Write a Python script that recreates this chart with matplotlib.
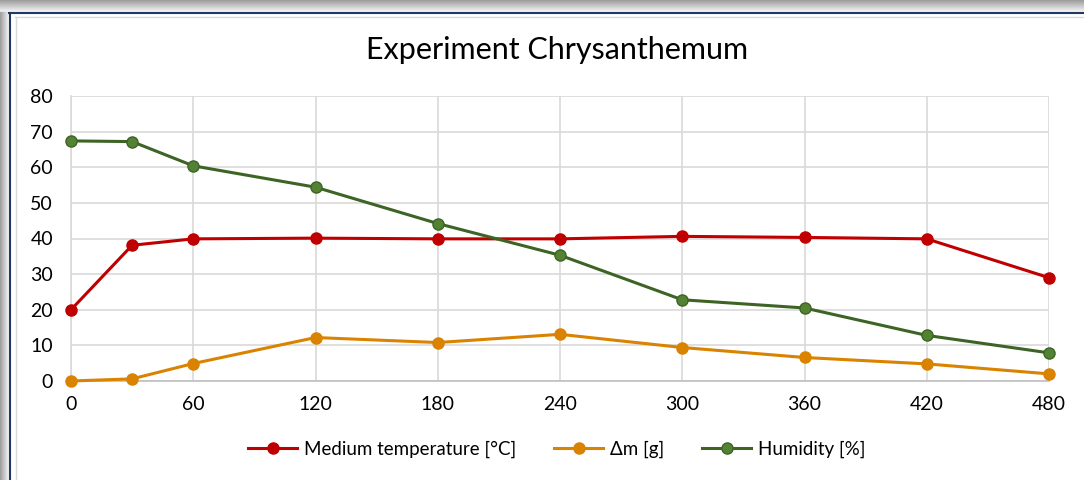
import matplotlib.pyplot as plt
import matplotlib.patches as mpatches
import numpy as np

# data
minutes = [0, 30, 60, 120, 180, 240, 300, 360, 420, 480]
temperature = [20, 38.1, 39.9, 40.1, 39.9, 39.9, 40.6, 40.3, 39.9, 29]
delta_m = [0, 0.6, 4.9, 12.2, 10.8, 13.1, 9.4, 6.6, 4.8, 2.0]
humidity = [67.4, 67.2, 60.4, 54.4, 44.2, 35.3, 22.8, 20.5, 12.8, 7.9]

x_ticks = [0, 60, 120, 180, 240, 300, 360, 420, 480]
y_ticks = [0, 10, 20, 30, 40, 50, 60, 70, 80]

plt.rcParams['font.family'] = ['Lato', 'DejaVu Sans']

fig = plt.figure(figsize=(10.84, 4.80), dpi=100)
W, H = 1084, 480

# window frame: grey shadow, navy border, thin inner line
for i in range(12):
    g = 0.62 + 0.03 * i
    fig.patches.append(mpatches.Rectangle((0, 1 - (i + 1) / H), 1, 1 / H,
                       transform=fig.transFigure, color=(g, g, g), zorder=0))
for i in range(9):
    g = 0.62 + 0.04 * i
    fig.patches.append(mpatches.Rectangle((i / W, 0), 1 / W, 1 - 12 / H,
                       transform=fig.transFigure, color=(g, g, g), zorder=0))
fig.add_artist(plt.Line2D([9 / W, 1], [1 - 12.5 / H, 1 - 12.5 / H], color='#1F3864', lw=1.5))
fig.add_artist(plt.Line2D([9.5 / W, 9.5 / W], [0, 1 - 12.5 / H], color='#1F3864', lw=1.5))
fig.add_artist(plt.Line2D([15 / W, 1], [1 - 16.5 / H, 1 - 16.5 / H], color='#D9D9D9', lw=1))
fig.add_artist(plt.Line2D([15.5 / W, 15.5 / W], [0, 1 - 16.5 / H], color='#D9D9D9', lw=1))

ax = fig.add_axes([71 / W, 1 - 381 / H, (1049 - 71) / W, (381 - 96) / H])

ax.plot(minutes, temperature, color='#C00000', lw=2.2, marker='o', ms=8,
        mfc='#C00000', mec='#C00000', label='Medium temperature [°C]', zorder=3, clip_on=False)
ax.plot(minutes, delta_m, color='#D98300', lw=2.2, marker='o', ms=8,
        mfc='#D98300', mec='#D98300', label='Δm [g]', zorder=3, clip_on=False)
ax.plot(minutes, humidity, color='#3D6325', lw=2.2, marker='o', ms=8,
        mfc='#548235', mec='#3D6325', label='Humidity [%]', zorder=3, clip_on=False)

ax.set_xlim(0, 480)
ax.set_ylim(0, 80)
ax.set_xticks(x_ticks)
ax.set_yticks(y_ticks)
ax.grid(True, color='#D9D9D9', lw=1.2)
ax.set_axisbelow(True)
for side in ['top', 'right']:
    ax.spines[side].set_visible(False)
ax.spines['left'].set_color('#D9D9D9')
ax.spines['bottom'].set_color('#BFBFBF')
ax.spines['left'].set_linewidth(1.2)
ax.spines['bottom'].set_linewidth(1.2)
ax.tick_params(length=0, labelsize=14, colors='black')
ax.tick_params(axis='x', pad=11)
ax.tick_params(axis='y', pad=13)
ax.patch.set_alpha(0)

fig.text(557 / W, 1 - 50 / H, 'Experiment Chrysanthemum', ha='center', va='center', fontsize=22)

fig.legend(loc='center', bbox_to_anchor=(557 / W, 1 - 449 / H), ncol=3, frameon=False,
           fontsize=13.5, handlelength=2.6, columnspacing=2.0, handletextpad=0.4)

fig.savefig('out.png', dpi=100)
